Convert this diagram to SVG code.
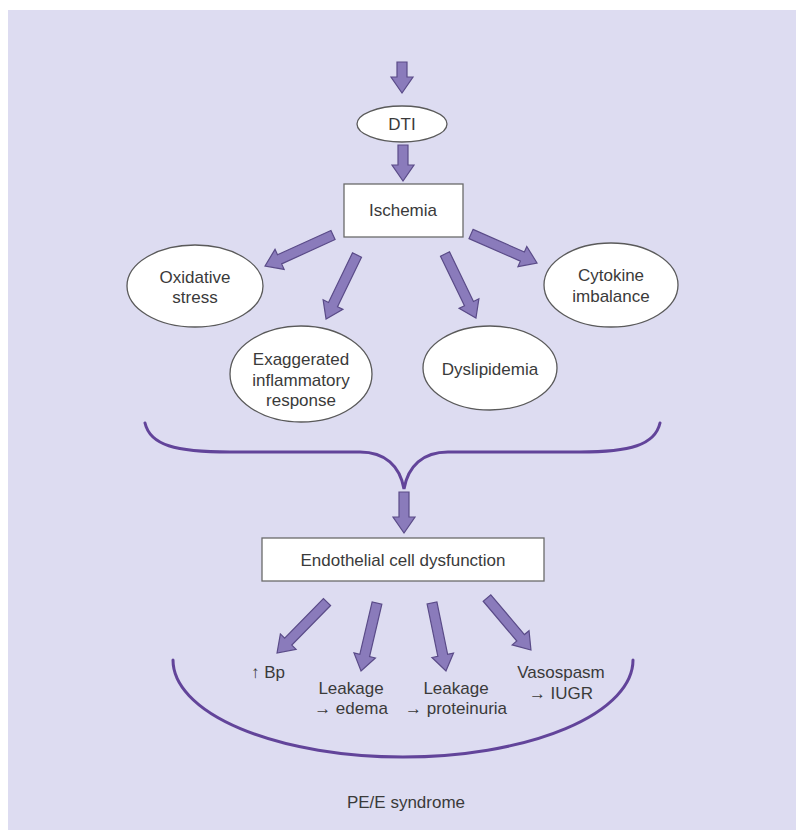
<svg xmlns="http://www.w3.org/2000/svg" width="796" height="830" viewBox="0 0 796 830">
<style>
  .bg { fill: #dddcf1; }
  .node { fill: #ffffff; stroke: #5a5a5a; stroke-width: 1.3; }
  .box { fill: #ffffff; stroke: #6a6a6a; stroke-width: 1.3; }
  .t { font-family: "Liberation Sans", Arial, sans-serif; font-size: 17px; fill: #3a3a3a; text-anchor: middle; }
  .arr { fill: #8a7bbb; stroke: #5a4b88; stroke-width: 1.2; stroke-linejoin: miter; }
  .curve { fill: none; stroke: #62449a; stroke-width: 3; stroke-linecap: round; }
</style>
<rect x="0" y="0" width="796" height="830" fill="#ffffff"/>
<rect class="bg" x="8" y="10" width="788" height="820"/>

<g id="connectors">
  <polygon class="arr" transform="translate(402,62) rotate(90)" points="0,-5 15,-5 15,-11 31,0 15,11 15,5 0,5"/>
  <polygon class="arr" transform="translate(403,145) rotate(90)" points="0,-5 20,-5 20,-11 36,0 20,11 20,5 0,5"/>
  <polygon class="arr" transform="translate(333,235) rotate(155.5)" points="0,-5 58.7,-5 58.7,-11 74.7,0 58.7,11 58.7,5 0,5"/>
  <polygon class="arr" transform="translate(357,255) rotate(115.8)" points="0,-5 55.1,-5 55.1,-11 71.1,0 55.1,11 55.1,5 0,5"/>
  <polygon class="arr" transform="translate(445,254) rotate(64.2)" points="0,-5 55.1,-5 55.1,-11 71.1,0 55.1,11 55.1,5 0,5"/>
  <polygon class="arr" transform="translate(471,234) rotate(23.7)" points="0,-5 56.1,-5 56.1,-11 72.1,0 56.1,11 56.1,5 0,5"/>
  <path class="curve" d="M145,423 C150,445 175,452 230,452 L360,452 C385,452 400,466 404,489 C408,466 423,452 448,452 L580,452 C630,452 655,445 660,423"/>
  <polygon class="arr" transform="translate(404,492) rotate(90)" points="0,-5 25,-5 25,-11 41,0 25,11 25,5 0,5"/>
  <polygon class="arr" transform="translate(327,602) rotate(134.4)" points="0,-5 55.4,-5 55.4,-11 71.4,0 55.4,11 55.4,5 0,5"/>
  <polygon class="arr" transform="translate(377,603) rotate(103.2)" points="0,-5 53.9,-5 53.9,-11 69.9,0 53.9,11 53.9,5 0,5"/>
  <polygon class="arr" transform="translate(432,603) rotate(78.4)" points="0,-5 53.4,-5 53.4,-11 69.4,0 53.4,11 53.4,5 0,5"/>
  <polygon class="arr" transform="translate(487,598) rotate(49.8)" points="0,-5 52.1,-5 52.1,-11 68.1,0 52.1,11 52.1,5 0,5"/>
  <path class="curve" d="M173,660 A230,97 0 0 0 633,660"/>
</g>

<g id="dti">
  <ellipse class="node" cx="402" cy="124" rx="45" ry="18"/>
  <text class="t" x="402" y="130">DTI</text>
</g>
<g id="ischemia">
  <rect class="box" x="344" y="184" width="119" height="53"/>
  <text class="t" x="403" y="216">Ischemia</text>
</g>
<g id="oxidative">
  <ellipse class="node" cx="195" cy="286" rx="68" ry="41"/>
  <text class="t" x="195" y="283">Oxidative</text>
  <text class="t" x="195" y="303">stress</text>
</g>
<g id="cytokine">
  <ellipse class="node" cx="611" cy="285" rx="67" ry="42"/>
  <text class="t" x="611" y="281">Cytokine</text>
  <text class="t" x="611" y="302">imbalance</text>
</g>
<g id="exaggerated">
  <ellipse class="node" cx="301" cy="374" rx="71" ry="48"/>
  <text class="t" x="301" y="365">Exaggerated</text>
  <text class="t" x="301" y="386">inflammatory</text>
  <text class="t" x="301" y="406">response</text>
</g>
<g id="dyslipidemia">
  <ellipse class="node" cx="490" cy="368" rx="67" ry="42"/>
  <text class="t" x="490" y="375">Dyslipidemia</text>
</g>
<g id="endothelial">
  <rect class="box" x="262" y="538" width="282" height="43"/>
  <text class="t" x="403" y="566">Endothelial cell dysfunction</text>
</g>
<g id="bp">
  <text class="t" x="268" y="678">↑ Bp</text>
</g>
<g id="edema">
  <text class="t" x="351" y="694">Leakage</text>
  <text class="t" x="351" y="714">→ edema</text>
</g>
<g id="proteinuria">
  <text class="t" x="456" y="694">Leakage</text>
  <text class="t" x="456" y="714">→ proteinuria</text>
</g>
<g id="iugr">
  <text class="t" x="561" y="678">Vasospasm</text>
  <text class="t" x="561" y="699">→ IUGR</text>
</g>
<g id="pee">
  <text class="t" x="406" y="808">PE/E syndrome</text>
</g>
</svg>
